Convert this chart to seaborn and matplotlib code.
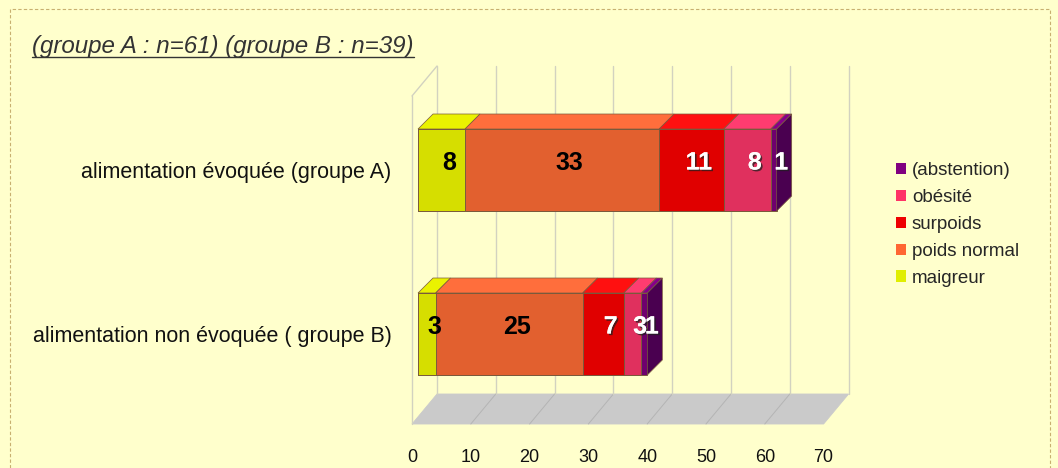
import numpy as np
import pandas as pd
import seaborn as sns
import matplotlib
matplotlib.use("Agg")
import matplotlib.pyplot as plt
import matplotlib.transforms as mtransforms
import matplotlib.patheffects as pe
from matplotlib.patches import Polygon, Rectangle, Patch
from matplotlib.lines import Line2D

# ---- data -------------------------------------------------------------
groups = ["alimentation évoquée (groupe A)", "alimentation non évoquée ( groupe B)"]
categories = ["maigreur", "poids normal", "surpoids", "obésité", "(abstention)"]
values_a = [8, 33, 11, 8, 1]
values_b = [3, 25, 7, 3, 1]
x_ticks = [0, 10, 20, 30, 40, 50, 60, 70]
title = "(groupe A : n=61) (groupe B : n=39)"

# ---- style ------------------------------------------------------------
front_colors = ["#D6DE00", "#E2602F", "#E00000", "#E0305E", "#6E006E"]
top_colors = ["#EAF200", "#FF6E3C", "#FF1010", "#FF3C70", "#86008A"]
side_color = "#4A0050"
legend_colors = ["#E0EE00", "#FF6633", "#EE0000", "#FF3366", "#800080"]
label_colors = ["black", "black", "white", "white", "white"]
bg = "#FFFFCC"
grid_col = "#D2D2C0"
floor_col = "#CACACA"
floor_line = "#B4B4B4"
edge_col = "#7A5A3C"

sns.set_theme(style="white")
plt.rcParams["font.family"] = ["Liberation Sans", "DejaVu Sans"]

DPI = 100
W, H = 1058, 468
fig = plt.figure(figsize=(W / DPI, H / DPI), dpi=DPI, facecolor=bg)

# plot plane of the bar fronts, in pixels
left_px, right_px, top_px, bottom_px = 418, 829.6, 88, 416
ax = fig.add_axes([left_px / W, 1 - bottom_px / H,
                   (right_px - left_px) / W, (bottom_px - top_px) / H])
ax.set_facecolor("none")

df = pd.DataFrame({
    "groupe": np.repeat(groups, len(categories)),
    "categorie": categories * 2,
    "n": values_a + values_b,
})
df["fin"] = df.groupby("groupe")["n"].cumsum()
df["debut"] = df["fin"] - df["n"]

# stacked bars: cumulative totals drawn from the outermost segment inwards
for i in reversed(range(len(categories))):
    sub = df[df["categorie"] == categories[i]]
    sns.barplot(data=sub, x="fin", y="groupe", order=groups, orient="y",
                color=front_colors[i], saturation=1, width=0.5,
                edgecolor=edge_col, linewidth=0.7, ax=ax, zorder=3)

ax.set_xlim(0, 70)
ax.set_ylim(1.5, -0.5)
ax.set_xlabel("")
ax.set_ylabel("")
ax.set_xticks([])
for s in ax.spines.values():
    s.set_visible(False)
ax.tick_params(axis="y", length=0, pad=19, labelsize=15.5, labelcolor="#111111")
ax.grid(False)


def px_to_data(dx_px, dy_px):
    """Convert a screen offset (right, up) in pixels into data units."""
    inv = ax.transData.inverted()
    x0, y0 = inv.transform((0, 0))
    x1, y1 = inv.transform((dx_px, dy_px))
    return x1 - x0, y1 - y0


bar_dx, bar_dy = px_to_data(15, 15)       # depth of the bars
front_dx, front_dy = px_to_data(-6, -8)   # front edge of the floor
back_dx, back_dy = px_to_data(19, 22)     # back wall

y_lo, y_hi = 1.5, -0.5

# floor
floor = Polygon([(0 + front_dx, y_lo + front_dy), (70 + front_dx, y_lo + front_dy),
                 (70 + back_dx, y_lo + back_dy), (0 + back_dx, y_lo + back_dy)],
                closed=True, facecolor=floor_col, edgecolor=floor_col, lw=0.6,
                zorder=0.5, clip_on=False)
ax.add_patch(floor)
for t in x_ticks[1:-1]:
    ax.add_line(Line2D([t + front_dx, t + back_dx], [y_lo + front_dy, y_lo + back_dy],
                       color=floor_line, lw=0.7, zorder=0.6, clip_on=False))

# back wall grid lines
for t in x_ticks:
    ax.add_line(Line2D([t + back_dx, t + back_dx], [y_lo + back_dy, y_hi + back_dy],
                       color=grid_col, lw=1.0, zorder=0.7, clip_on=False))

# left side wall outline
ax.add_line(Line2D([front_dx, front_dx], [y_lo + front_dy, y_hi + front_dy],
                   color=grid_col, lw=1.0, zorder=0.7, clip_on=False))
ax.add_line(Line2D([front_dx, back_dx], [y_hi + front_dy, y_hi + back_dy],
                   color=grid_col, lw=1.0, zorder=0.7, clip_on=False))

# top and side faces of the bars, plus value labels
half = 0.25
shadow = [pe.withSimplePatchShadow(offset=(1.2, -1.2), shadow_rgbFace="#202020",
                                   alpha=0.75), pe.Normal()]
for gi, g in enumerate(groups):
    rows = df[df["groupe"] == g].reset_index(drop=True)
    y_top, y_bot = gi - half, gi + half
    for i, r in rows.iterrows():
        a, b = r["debut"], r["fin"]
        top = Polygon([(a, y_top), (b, y_top), (b + bar_dx, y_top + bar_dy),
                       (a + bar_dx, y_top + bar_dy)], closed=True,
                      facecolor=top_colors[i], edgecolor=edge_col, lw=0.5,
                      zorder=3.2, clip_on=False)
        ax.add_patch(top)
        if i == len(rows) - 1:
            side = Polygon([(b, y_top), (b, y_bot), (b + bar_dx, y_bot + bar_dy),
                            (b + bar_dx, y_top + bar_dy)], closed=True,
                           facecolor=side_color, edgecolor=edge_col, lw=0.5,
                           zorder=3.2, clip_on=False)
            ax.add_patch(side)
    for i, r in rows.iterrows():
        a, b = r["debut"], r["fin"]
        xc = (a + b) / 2 + bar_dx / 2
        yc = gi + bar_dy / 2
        effects = shadow if label_colors[i] == "white" else []
        ax.text(xc, yc, f"{int(r['n'])}", ha="center", va="center",
                fontsize=18, fontweight="bold", color=label_colors[i],
                path_effects=effects, zorder=5, clip_on=False)

# x tick labels along the front edge of the floor
blend = mtransforms.blended_transform_factory(ax.transData, fig.transFigure)
for t in x_ticks:
    ax.text(t + front_dx, 1 - 458 / H, str(t), transform=blend, ha="center",
            va="center", fontsize=13, color="#111111", clip_on=False)

# legend
handles = [Patch(facecolor=legend_colors[i], edgecolor="none", label=categories[i])
           for i in reversed(range(len(categories)))]
fig.legend(handles=handles, loc="upper left", bbox_to_anchor=(896 / W, 1 - 162 / H),
           frameon=False, fontsize=13.5, handlelength=0.55, handleheight=0.55,
           handletextpad=0.3, labelspacing=0.53, borderaxespad=0, borderpad=0)

# title, underlined
ttl = fig.text(32 / W, 1 - 47 / H, title, ha="left", va="center", fontsize=17.4,
               style="italic", color="#333333")
fig.canvas.draw()
bb = ttl.get_window_extent()
uy = bb.y0 + 1.5
fig.add_artist(Line2D([bb.x0 / W, bb.x1 / W], [uy / H, uy / H], color="#333333",
                      lw=1.0, transform=fig.transFigure))

# dashed frame
fig.add_artist(Rectangle((10 / W, -0.05), 1040 / W, 1 - 9 / H + 0.05,
                         transform=fig.transFigure, fill=False, edgecolor="#C8B070",
                         linestyle=(0, (3, 2)), lw=0.8))

fig.savefig("out.png", dpi=DPI, facecolor=fig.get_facecolor())
